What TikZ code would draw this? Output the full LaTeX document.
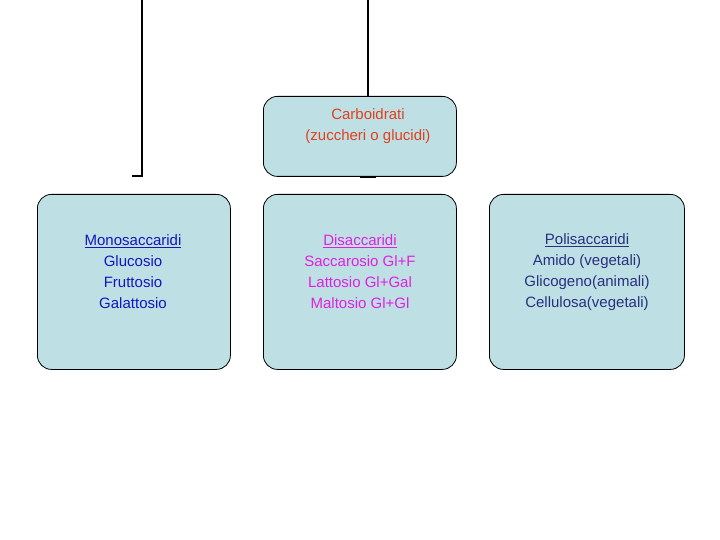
\documentclass[tikz,border=0pt]{standalone}
\usepackage{fontspec}
\setmainfont{Liberation Sans}
\begin{document}
\begin{tikzpicture}[x=1pt,y=-1pt,
  box/.style={draw=black,fill=boxfill,rounded corners=14pt,line width=0.8pt,anchor=north west,inner sep=0pt},
  txt/.style={align=center,font=\fontsize{15}{21}\selectfont},
  ln/.style={line width=2.5pt}]
\definecolor{boxfill}{HTML}{BEE0E4}
\definecolor{cTop}{HTML}{E0401E}
\definecolor{cMono}{HTML}{1515C0}
\definecolor{cDi}{HTML}{E020E0}
\definecolor{cPoli}{HTML}{283080}
\useasboundingbox (0,0) rectangle (720,540);
\coordinate (t1) at (142,0);
\coordinate (c1) at (142,176);
\coordinate (e1) at (132,176);
\coordinate (t2) at (368,0);
\node[box,minimum width=193pt,minimum height=80pt] (top) at (263,96) {};
\node[box,minimum width=193pt,minimum height=175pt] (mono) at (37,194) {};
\node[box,minimum width=193pt,minimum height=175pt] (di) at (263,194) {};
\node[box,minimum width=195pt,minimum height=175pt] (poli) at (489,194) {};
\node[txt,text=cTop] (toptxt) at (368,126) {Carboidrati\\(zuccheri o glucidi)};
\node[txt,text=cMono] (monotxt) at (133,272) {\underline{Monosaccaridi}\\Glucosio\\Fruttosio\\Galattosio};
\node[txt,text=cDi] (ditxt) at (360,272) {\underline{Disaccaridi}\\Saccarosio Gl+F\\Lattosio Gl+Gal\\Maltosio Gl+Gl};
\node[txt,text=cPoli] (politxt) at (587,272) {\underline{Polisaccaridi}\\Amido (vegetali)\\Glicogeno(animali)\\Cellulosa(vegetali)};
\draw[ln] (t1) -- (c1) -- (e1);
\draw[ln] (t2) -- (top.north -| t2);
\draw[ln] (360,177) -- (376,177);
\end{tikzpicture}
\end{document}
